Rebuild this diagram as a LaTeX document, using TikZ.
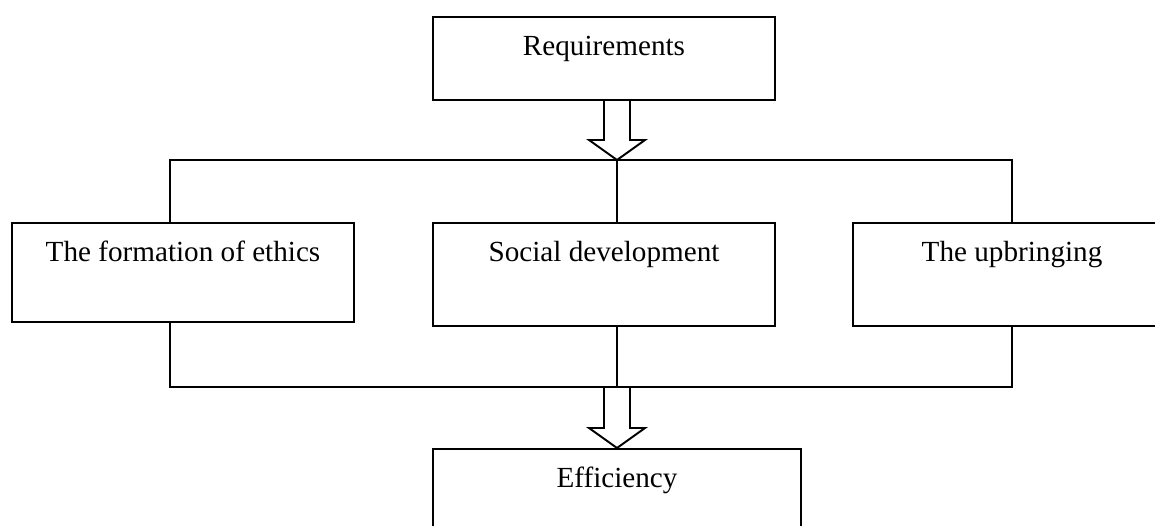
\documentclass[tikz,border=0pt]{standalone}
\usepackage{fontspec}
\setmainfont{Liberation Serif}
\usetikzlibrary{calc}
\tikzset{
    % Boxes
    sbox/.style={rectangle, draw=black, line width=1.1pt, inner sep=0pt,
                anchor=north, text height=0.77cm, minimum width=#1,
                font=\fontsize{16.6}{20}\selectfont},
    % Connectors
    sline/.style={line width=1.1pt, black},
    hollow/.style={line width=1.1pt, black, line join=miter},
}
% hollow block arrow from (#1) down to tip (#2)
\newcommand{\hollowarrow}[2]{%
  \draw[hollow] let \p1=(#1), \p2=(#2) in
    (\x1-0.26cm,\y1) -- (\x1-0.26cm,\y2+0.4cm) -- (\x1-0.56cm,\y2+0.4cm)
    -- (\x2,\y2) -- (\x1+0.56cm,\y2+0.4cm) -- (\x1+0.26cm,\y2+0.4cm)
    -- (\x1+0.26cm,\y1);}

\begin{document}
\begin{tikzpicture}
\useasboundingbox (0,0) rectangle (23.1,-10.52);

\node[sbox=6.84cm, text depth=0.89cm] (req)    at (12.08,-0.32) {Requirements};
\node[sbox=6.84cm, text depth=1.21cm] (ethics) at (3.66,-4.44)  {The formation of ethics};
\node[sbox=6.84cm, text depth=1.29cm] (social) at (12.08,-4.44) {Social development};
\node[sbox=6.36cm, text depth=1.29cm] (upbr)   at (20.24,-4.44) {The upbringing};
\node[sbox=7.36cm, text depth=1.30cm] (eff)    at (12.34,-8.96) {Efficiency};

\coordinate (tl)  at (3.4,-3.2);
\coordinate (top) at (12.34,-3.2);
\coordinate (tr)  at (20.24,-3.2);
\coordinate (bl)  at (3.4,-7.74);
\coordinate (bot) at (12.34,-7.74);
\coordinate (br)  at (20.24,-7.74);

% upper bus
\draw[sline] (tl |- ethics.north) -- (tl) -- (tr) -- (upbr.north);
\draw[sline] (top) -- (top |- social.north);
\hollowarrow{req.south -| top}{top}

% lower bus
\draw[sline] (bl |- ethics.south) -- (bl) -- (br) -- (upbr.south);
\draw[sline] (bot |- social.south) -- (bot);
\hollowarrow{bot}{eff.north -| bot}
\end{tikzpicture}
\end{document}
